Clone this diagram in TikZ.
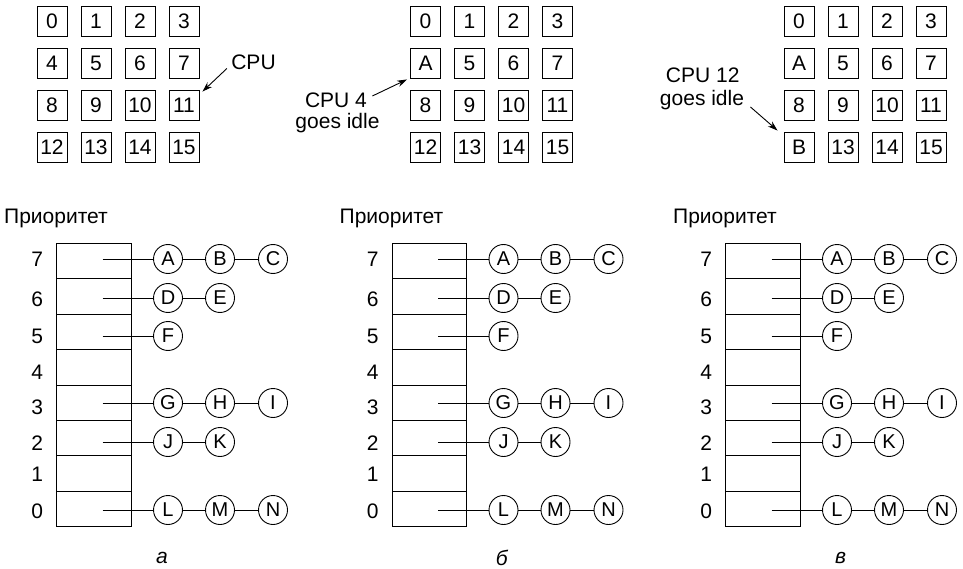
\documentclass[tikz,border=0pt]{standalone}
\usepackage{fontspec}
\setmainfont{Liberation Sans}
\usetikzlibrary{arrows.meta}
\newcommand\prioritypanel[4]{%
  % #1 x offset, #2 prefix, #3 caption x, #4 caption text
  \node[lbl] (#2prio) at (56+#1,218) {Приоритет};
  \foreach \i/\pr/\ly in {0/7/259,1/6/299,2/5/336,3/4/372.5,4/3/407,5/2/443,6/1/474.5,7/0/511}{
    \node[cell] (#2cell\pr) at ({93.85+#1},{261.1+35.42*\i}) {};
    \node[lbl] (#2num\pr) at ({37.3+#1},\ly) {\pr};
  }
  \coordinate (#2s7) at (102.7+#1,259);
  \coordinate (#2s6) at (102.7+#1,298);
  \coordinate (#2s5) at (102.7+#1,336);
  \coordinate (#2s3) at (102.7+#1,403);
  \coordinate (#2s2) at (102.7+#1,442);
  \coordinate (#2s0) at (102.7+#1,510);
  \node[proc] (#2A) at (168+#1,259) {A};
  \node[proc] (#2B) at (220+#1,259) {B};
  \node[proc] (#2C) at (273+#1,259) {C};
  \node[proc] (#2D) at (168+#1,298) {D};
  \node[proc] (#2E) at (220+#1,298) {E};
  \node[proc] (#2F) at (168+#1,336) {F};
  \node[proc] (#2G) at (168+#1,403) {G};
  \node[proc] (#2H) at (220+#1,403) {H};
  \node[proc] (#2I) at (273+#1,403) {I};
  \node[proc] (#2J) at (168+#1,442) {J};
  \node[proc] (#2K) at (220+#1,442) {K};
  \node[proc] (#2L) at (168+#1,510) {L};
  \node[proc] (#2M) at (220+#1,510) {M};
  \node[proc] (#2N) at (273+#1,510) {N};
  \draw (#2s7) -- (#2A) -- (#2B) -- (#2C);
  \draw (#2s6) -- (#2D) -- (#2E);
  \draw (#2s5) -- (#2F);
  \draw (#2s3) -- (#2G) -- (#2H) -- (#2I);
  \draw (#2s2) -- (#2J) -- (#2K);
  \draw (#2s0) -- (#2L) -- (#2M) -- (#2N);
  \node[lbl] (#2cap) at (#3,558) {\itshape #4};
}
\begin{document}
\begin{tikzpicture}[x=1pt,y=-1pt, line width=0.9pt,
  every node/.style={font=\fontsize{21}{24}\selectfont},
  cpubox/.style={draw, minimum size=30pt, inner sep=0pt},
  cell/.style={draw, minimum width=74.3pt, minimum height=35.4pt, inner sep=0pt},
  proc/.style={draw, circle, minimum size=29pt, inner sep=0pt, font=\fontsize{20}{22}\selectfont},
  lbl/.style={inner sep=0pt},
  arr/.style={-{Stealth[length=10pt,width=6.5pt]}, line width=0.9pt}]
\useasboundingbox (0,0) rectangle (963,569);
% CPU grids
\foreach \g/\gx/\lfour/\ltwelve in {a/52/4/12, b/425.5/A/12, c/799/A/B}{
  \foreach \n in {0,...,15}{
    \pgfmathtruncatemacro\col{mod(\n,4)}
    \pgfmathtruncatemacro\row{div(\n,4)}
    \node[cpubox] (\g\n) at ({\gx+44*\col},{21+42*\row})
      {\ifnum\n=4 \lfour\else\ifnum\n=12 \ltwelve\else\n\fi\fi};
  }
}
% labels and arrows
\node[lbl] (cpuA) at (253.5,62.5) {CPU};
\draw[arr] ([xshift=-4pt,yshift=-6pt]cpuA.west) -- ([xshift=3pt,yshift=-2pt]a11.north east);
\node[lbl] (cpuB) at (336,100) {CPU 4};
\node[lbl] (cpuBg) at (337.5,123.2) {goes idle};
\draw[arr] ([xshift=5pt,yshift=4pt]cpuB.east) -- ([xshift=-3pt,yshift=-1pt]b4.south west);
\node[lbl] (cpuC) at (702.7,75) {CPU 12};
\node[lbl] (cpuCg) at (702,100.5) {goes idle};
\draw[arr] ([xshift=6pt,yshift=-6.5pt]cpuCg.east) -- ([xshift=-6pt,yshift=1pt]c12.north west);
% priority panels
\prioritypanel{0}{pa}{162}{а}
\prioritypanel{335.5}{pb}{501.7}{б}
\prioritypanel{669}{pc}{840.7}{в}
\end{tikzpicture}
\end{document}
